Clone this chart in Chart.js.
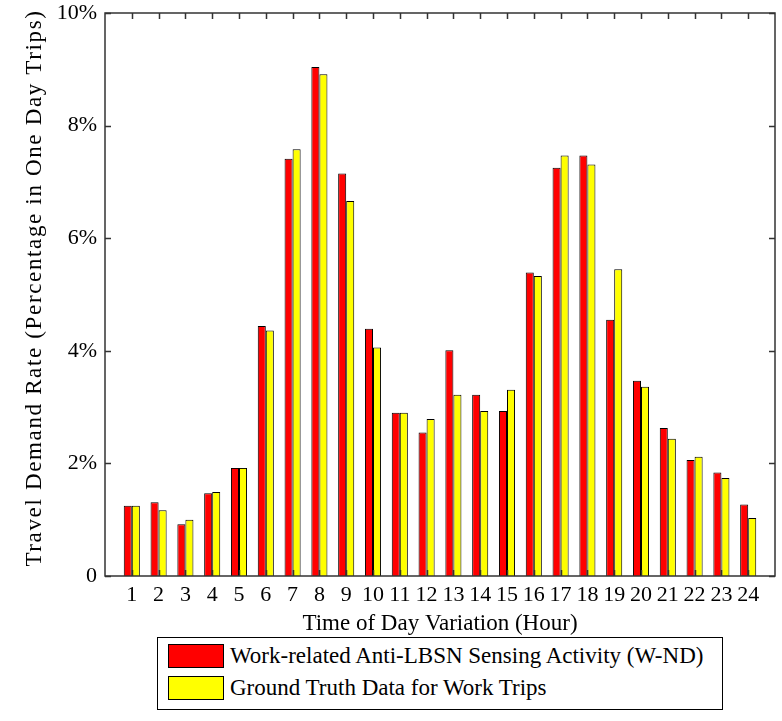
<!DOCTYPE html>
<html>
<head>
<meta charset="utf-8">
<script src="https://cdn.jsdelivr.net/npm/chart.js@4.4.0/dist/chart.umd.min.js"></script>
<style>
  body { margin: 0; background: #fff; }
  #wrap { position: relative; width: 782px; height: 721px; }
  #legend {
    position: absolute; left: 157px; top: 637px; width: 564px; height: 71px;
    border: 1px solid #000; background: #fff;
    font-family: "Liberation Serif", "Times New Roman", serif; font-size: 23px; color: #000;
  }
  .row { position: absolute; left: 10px; height: 24px; display: flex; align-items: center; white-space: nowrap; }
  .sw { width: 54px; height: 22px; border: 1px solid #000; margin-right: 6px; }
</style>
</head>
<body>
<div id="wrap">
  <canvas id="grafico"></canvas>
  <div id="legend">
    <div class="row" style="top: 6px;"><div class="sw" style="background: #ff0000;"></div><span id="leg0"></span></div>
    <div class="row" style="top: 38px;"><div class="sw" style="background: #ffff00;"></div><span id="leg1"></span></div>
  </div>
</div>
<script>
let horas = ['1', '2', '3', '4', '5', '6', '7', '8', '9', '10', '11', '12',
             '13', '14', '15', '16', '17', '18', '19', '20', '21', '22', '23', '24'];

// percentual de viagens por hora
let sensing = [1.25, 1.31, 0.92, 1.47, 1.92, 4.44, 7.41, 9.04, 7.15, 4.39, 2.90, 2.55,
               4.01, 3.22, 2.93, 5.39, 7.25, 7.47, 4.55, 3.47, 2.63, 2.06, 1.84, 1.27];
let groundTruth = [1.25, 1.17, 1.00, 1.49, 1.92, 4.36, 7.58, 8.91, 6.66, 4.06, 2.90, 2.79,
                   3.22, 2.93, 3.31, 5.33, 7.47, 7.31, 5.45, 3.36, 2.44, 2.12, 1.74, 1.03];

let nomes = ['Work-related Anti-LBSN Sensing Activity (W-ND)', 'Ground Truth Data for Work Trips'];
let tituloY = 'Travel Demand Rate (Percentage in One Day Trips)';
let yTicks = [0, 2, 4, 6, 8, 10];

document.getElementById('leg0').textContent = nomes[0];
document.getElementById('leg1').textContent = nomes[1];

let fonte = '"Liberation Serif", "Times New Roman", serif';

// eixo x vai de 0 a 25, entao coloca uma categoria vazia em cada ponta
let labels = [''].concat(horas, ['']);
let pad = arr => [null].concat(arr, [null]);

// caixa em volta do grafico com ticks para dentro + titulo do eixo y espaçado
let caixa = {
    id: 'caixa',
    afterDraw(chart) {
        let ctx = chart.ctx;
        let a = chart.chartArea;
        let x = chart.scales.x;
        let y = chart.scales.y;
        let len = 6;
        ctx.save();
        ctx.strokeStyle = '#333';
        ctx.lineWidth = 1.5;
        ctx.strokeRect(a.left, a.top, a.right - a.left, a.bottom - a.top);
        ctx.beginPath();
        for (let i = 1; i <= horas.length; i++) {
            let px = Math.round(x.getPixelForValue(i)) + 0.5;
            ctx.moveTo(px, a.bottom); ctx.lineTo(px, a.bottom - len);
            ctx.moveTo(px, a.top); ctx.lineTo(px, a.top + len);
        }
        yTicks.forEach(v => {
            let py = Math.round(y.getPixelForValue(v)) + 0.5;
            ctx.moveTo(a.left, py); ctx.lineTo(a.left + len, py);
            ctx.moveTo(a.right, py); ctx.lineTo(a.right - len, py);
        });
        ctx.stroke();

        ctx.translate(35, 288);
        ctx.rotate(-Math.PI / 2);
        ctx.font = '23px ' + fonte;
        ctx.fillStyle = '#000';
        ctx.textAlign = 'center';
        ctx.textBaseline = 'middle';
        ctx.letterSpacing = '1.65px';
        ctx.fillText(tituloY, 0, 0);
        ctx.restore();
    }
};

new Chart(document.getElementById('grafico'), {
    type: 'bar',
    data: {
        labels: labels,
        datasets: [
            {
                label: nomes[0],
                data: pad(sensing),
                backgroundColor: '#ff0000',
                borderColor: '#000',
                borderWidth: 1,
                categoryPercentage: 0.6,
                barPercentage: 1.0
            },
            {
                label: nomes[1],
                data: pad(groundTruth),
                backgroundColor: '#ffff00',
                borderColor: '#000',
                borderWidth: 1,
                categoryPercentage: 0.6,
                barPercentage: 1.0
            }
        ]
    },
    options: {
        responsive: true,
        maintainAspectRatio: false,
        animation: false,
        layout: { padding: { top: 13, right: 7, bottom: 83, left: 0 } },
        plugins: {
            legend: { display: false },
            tooltip: { enabled: false }
        },
        scales: {
            x: {
                offset: false,
                grid: { display: false, drawTicks: false },
                border: { display: false },
                ticks: {
                    autoSkip: false, maxRotation: 0, padding: 6,
                    color: '#000', font: { family: fonte, size: 22 }
                },
                title: {
                    display: true, text: 'Time of Day Variation (Hour)',
                    color: '#000', font: { family: fonte, size: 23 },
                    padding: { top: 0, bottom: 0 }
                },
                afterFit(scale) {
                    scale.height = 62;
                    scale.paddingLeft = 0;
                    scale.paddingRight = 0;
                }
            },
            y: {
                min: 0, max: 10,
                grid: { display: false, drawTicks: false },
                border: { display: false },
                ticks: {
                    stepSize: 2, padding: 8, color: '#000',
                    font: { family: fonte, size: 22 },
                    callback: v => v === 0 ? '0' : v + '%'
                },
                afterFit(scale) {
                    scale.width = 105;
                    scale.paddingTop = 0;
                    scale.paddingBottom = 0;
                }
            }
        }
    },
    plugins: [caixa]
});
</script>
</body>
</html>
